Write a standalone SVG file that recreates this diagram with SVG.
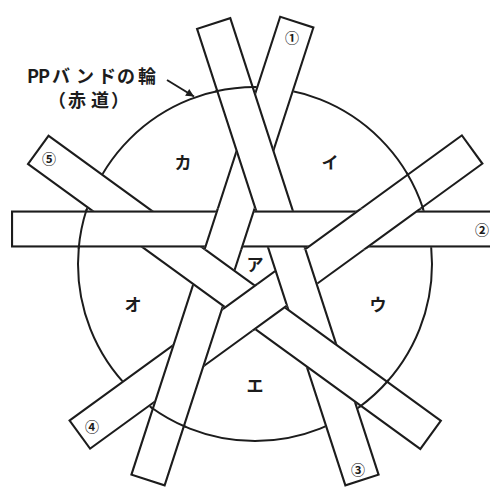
<svg xmlns="http://www.w3.org/2000/svg" width="490" height="487" viewBox="0 0 490 487">
<style>
.band{fill:#fff;stroke:#1c1c1c;stroke-width:4.2}
.ln{fill:none;stroke:#1c1c1c;stroke-width:2}
.kt{font-family:"Noto Sans CJK JP","Noto Sans",sans-serif;font-weight:bold;font-size:17px;fill:#1c1c1c;text-anchor:middle}
.num{font-family:"Noto Sans CJK JP","DejaVu Sans",sans-serif;font-weight:bold;font-size:14px;fill:#1c1c1c;text-anchor:middle}
.lbl{font-family:"Noto Sans CJK JP",sans-serif;font-weight:bold;font-size:18px;fill:#1c1c1c}
</style>
<defs>
<rect id="b2" x="-244" y="-53.5" width="500" height="37"/>
<rect id="b3" x="-242.5" y="-53.5" width="482" height="37" transform="rotate(72)"/>
<rect id="b4" x="-244" y="-53.5" width="487" height="37" transform="rotate(144)"/>
<rect id="b5" x="-243.5" y="-53.5" width="487" height="37" transform="rotate(216)"/>
<rect id="b1" x="-239.5" y="-53.5" width="483.5" height="37" transform="rotate(288)"/>
<clipPath id="k1"><use href="#b1"/></clipPath>
<clipPath id="k2"><use href="#b2"/></clipPath>
<clipPath id="k3"><use href="#b3"/></clipPath>
<clipPath id="k4"><use href="#b4"/></clipPath>
<clipPath id="k5"><use href="#b5"/></clipPath>
<clipPath id="x2"><rect x="-250" y="-55.2" width="510" height="40.4"/></clipPath>
<clipPath id="x5"><rect x="-250" y="-55.2" width="500" height="40.4" transform="rotate(216)"/></clipPath>
<path id="arc" d="M-176.34,-15.27 A177,177 0 0 1 -168.34,-54.70"/>
<marker id="ah" viewBox="0 0 10 10" refX="10" refY="5" markerWidth="10" markerHeight="8" markerUnits="userSpaceOnUse" orient="auto"><path d="M0,0 L10,5 L0,10 z" fill="#1c1c1c"/></marker>
</defs>
<rect width="490" height="487" fill="#fff"/>
<g transform="translate(255,264)">
  <circle id="ring" cx="0" cy="0" r="177" class="ln"/>
  <g id="band4" clip-path="url(#k4)"><use href="#b4" class="band"/></g>
  <g id="band1" clip-path="url(#k1)"><use href="#b1" class="band"/></g>
  <g id="band3" clip-path="url(#k3)"><use href="#b3" class="band"/></g>
  <g id="band5" clip-path="url(#k5)"><use href="#b5" class="band"/></g>
  <g id="band2" clip-path="url(#k2)"><use href="#b2" class="band"/></g>
  <g id="weave-patches">
    <g clip-path="url(#x2)"><g clip-path="url(#k1)"><use href="#b1" class="band"/></g></g>
    <g clip-path="url(#x2)"><g clip-path="url(#k4)"><use href="#b4" class="band"/></g></g>
    <g clip-path="url(#x5)"><g clip-path="url(#k4)"><use href="#b4" class="band"/></g></g>
  </g>
  <g id="ring-over" class="ln">
    <use href="#arc"/>
    <use href="#arc" transform="rotate(72)"/>
    <use href="#arc" transform="rotate(144)"/>
    <use href="#arc" transform="rotate(216)"/>
    <use href="#arc" transform="rotate(288)"/>
  </g>
</g>
<g id="labels">
  <text class="num" x="292" y="42.5">①</text>
  <text class="num" x="482" y="235">②</text>
  <text class="num" x="358" y="475">③</text>
  <text class="num" x="92" y="432">④</text>
  <text class="num" x="49" y="163.5">⑤</text>
  <text class="kt" x="255" y="271">ア</text>
  <text class="kt" x="330" y="169">イ</text>
  <text class="kt" x="378" y="311">ウ</text>
  <text class="kt" x="255" y="392">エ</text>
  <text class="kt" x="133" y="311">オ</text>
  <text class="kt" x="183" y="169">カ</text>
</g>
<g id="caption">
  <text class="lbl" x="27 38 52 76 98 117 138" y="83">PPバンドの輪</text>
  <text class="lbl" x="48 68 91 111" y="107">（赤道）</text>
  <path d="M167,80 L194,96.5" class="ln" marker-end="url(#ah)"/>
</g>
</svg>
